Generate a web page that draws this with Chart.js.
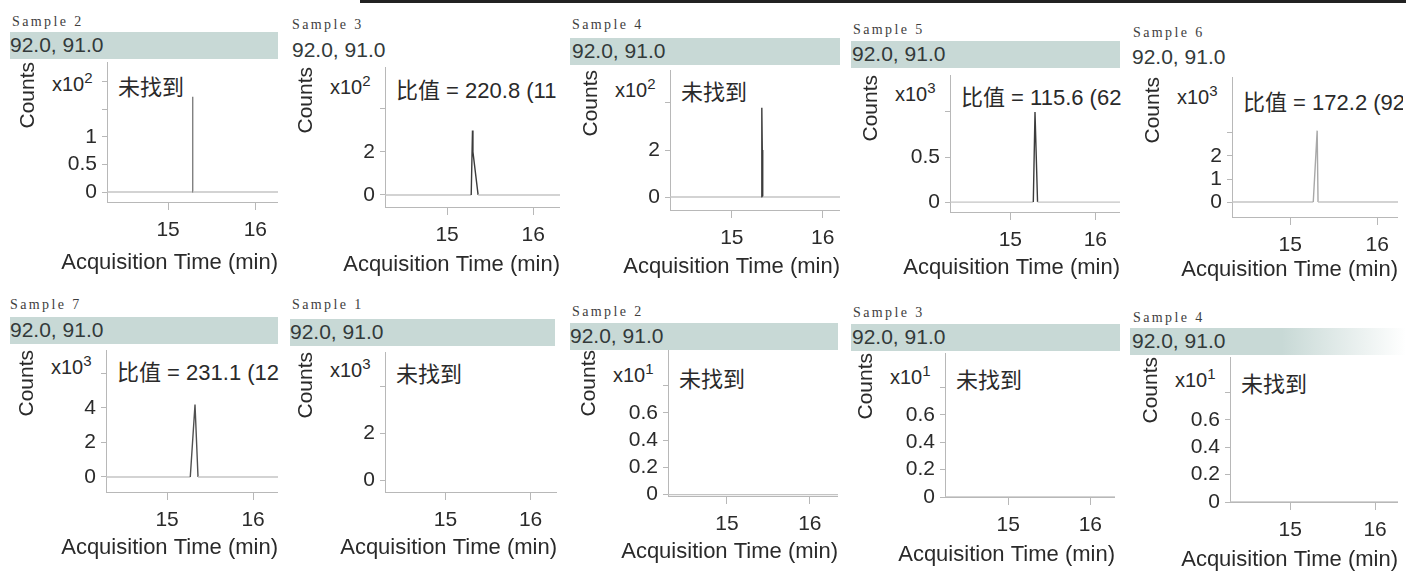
<!DOCTYPE html>
<html>
<head>
<meta charset="utf-8">
<script src="https://cdn.jsdelivr.net/npm/chart.js@4/dist/chart.umd.min.js"></script>
<style>
body { margin: 0; background: #fff; width: 1406px; height: 571px; position: relative; overflow: hidden;
       font-family: "Liberation Sans", Arial, "Noto Sans CJK SC", sans-serif; color: #2a2a2a; }
canvas { position: absolute; }
.smp { position: absolute; font: 14px "Liberation Serif", serif; letter-spacing: 2.4px; color: #3e3e3e; transform: translateY(-50%); white-space: nowrap; }
.band { position: absolute; height: 27px; background: #c8d9d6; }
.ion { position: absolute; font-size: 21px; color: #333a3a; transform: translateY(-50%); white-space: nowrap; }
.exp { position: absolute; font-size: 20px; transform: translateY(-50%); white-space: nowrap; }
.exp sup { font-size: 15px; vertical-align: 8px; }
.note { position: absolute; font-size: 22px; white-space: nowrap; overflow: hidden; transform: translateY(-50%); }
.rule { position: absolute; left: 360px; top: 0; width: 1046px; height: 3px; background: #222; }
</style>
</head>
<body>
<div class="rule"></div>
<script>
// DATOS

const sampleNames = ['Sample 2', 'Sample 3', 'Sample 4', 'Sample 5', 'Sample 6', 'Sample 7', 'Sample 1', 'Sample 2', 'Sample 3', 'Sample 4'];
const ionLabel = '92.0, 91.0';
const exponents = [2, 2, 2, 3, 3, 3, 3, 1, 1, 1];
const notes = ['未找到', '比值 = 220.8 (11', '未找到', '比值 = 115.6 (62', '比值 = 172.2 (92',
               '比值 = 231.1 (12', '未找到', '未找到', '未找到', '未找到'];
const xTitleText = 'Acquisition Time (min)';
const yTitleText = 'Counts';

const xTicks = [15, 16];

const yTicks = [
    [0, 0.5, 1, 1.5, 2],
    [0, 2, 4],
    [0, 2, 4],
    [0, 0.5, 1],
    [0, 1, 2, 3],
    [0, 2, 4, 6],
    [0, 2, 4],
    [0, 0.2, 0.4, 0.6, 0.8],
    [0, 0.2, 0.4, 0.6, 0.8],
    [0, 0.2, 0.4, 0.6, 0.8]
];
const yTickLabels = [
    ['0', '0.5', '1', '', ''],
    ['0', '2', ''],
    ['0', '2', ''],
    ['0', '0.5', ''],
    ['0', '1', '2', ''],
    ['0', '2', '4', ''],
    ['0', '2', ''],
    ['0', '0.2', '0.4', '0.6', ''],
    ['0', '0.2', '0.4', '0.6', ''],
    ['0', '0.2', '0.4', '0.6', '']
];

// [time (min), counts] por muestra
const trace1 = [[14.30, 0], [15.275, 0], [15.28, 1.72], [15.285, 0], [16.26, 0]];
const trace2 = [[14.28, 0], [15.28, 0], [15.295, 3.0], [15.30, 2.0], [15.36, 0], [16.31, 0]];
const trace3 = [[14.32, 0], [15.325, 0], [15.33, 3.8], [15.335, 2.0], [15.34, 0], [16.19, 0]];
const trace4 = [[14.29, 0], [15.27, 0], [15.29, 1.0], [15.32, 0], [16.29, 0]];
const trace5 = [[14.33, 0], [15.265, 0], [15.31, 3.1], [15.32, 0], [16.24, 0]];
const trace6 = [[14.29, 0], [15.27, 0], [15.325, 4.2], [15.36, 0], [16.29, 0]];
const trace7 = [[14.29, 0], [16.31, 0]];
const trace8 = [[14.29, 0], [16.34, 0]];
const trace9 = [[14.23, 0], [16.30, 0]];
const trace10 = [[14.29, 0], [16.27, 0]];
const traces = [trace1, trace2, trace3, trace4, trace5, trace6, trace7, trace8, trace9, trace10];

// LAYOUT (px)
const layout = [
    { A: 107, T: 62, B: 202, R: 278, tY: 263, x: [14.30, 16.26], y: [-0.18, 2.35], s: [12, 22], l: [10, 45], band: [10, 278], ey: 82, ny: 85, pc: '#808080' },
    { A: 385, T: 67, B: 207, R: 560, tY: 265, x: [14.28, 16.31], y: [-0.56, 5.95], s: [292, 25], l: [292, 50], band: null, ey: 85, ny: 88, dash: true, pc: '#3c3c3c' },
    { A: 670, T: 70, B: 210, R: 840, tY: 267, x: [14.32, 16.19], y: [-0.55, 5.4], s: [572, 25], l: [572, 51], band: [570, 840], ey: 88, ny: 90, dash: true, pc: '#3c3c3c' },
    { A: 950, T: 75, B: 212, R: 1120, tY: 268, x: [14.29, 16.29], y: [-0.11, 1.41], s: [853, 30], l: [852, 54], band: [851, 1120], ey: 92, ny: 95, pc: '#3c3c3c' },
    { A: 1232, T: 77, B: 217, R: 1398, tY: 270, x: [14.33, 16.24], y: [-0.65, 5.43], s: [1133, 33], l: [1132, 57], band: null, ey: 95, ny: 100, pc: '#a8a8a8' },
    { A: 106, T: 350, B: 492, R: 278, tY: 548, x: [14.29, 16.29], y: [-0.87, 7.36], s: [10, 305], l: [10, 330], band: [10, 278], ey: 365, ny: 370, pc: '#505050' },
    { A: 385, T: 352, B: 492, R: 557, tY: 548, x: [14.29, 16.31], y: [-0.51, 5.45], s: [292, 305], l: [290, 332], band: [290, 555], ey: 368, ny: 372, dash: true, hideBase: true, pc: '#3c3c3c' },
    { A: 668, T: 350, B: 496, R: 838, tY: 552, x: [14.29, 16.34], y: [-0.01, 1.06], s: [572, 312], l: [570, 336], band: [570, 838], ey: 373, ny: 377, dash: true, pc: '#3c3c3c' },
    { A: 945, T: 353, B: 497, R: 1115, tY: 555, x: [14.23, 16.30], y: [0, 1.05], s: [853, 313], l: [852, 337], band: [851, 1120], ey: 375, ny: 378, pc: '#3c3c3c' },
    { A: 1230, T: 357, B: 502, R: 1398, tY: 560, x: [14.29, 16.27], y: [0, 1.06], s: [1133, 318], l: [1132, 341], band: [1130, 1406], ey: 378, ny: 382, fade: true, pc: '#3c3c3c' }
];

const FONT = "'Liberation Sans', Arial, sans-serif";
const TEXT = '#2a2a2a';
const AXIS = '#b8b8b8';

// titulo del eje x sin comprimir, alineado al borde derecho del area
const xTitle = {
    id: 'xTitle',
    afterDraw(chart) {
        const { ctx, chartArea } = chart;
        ctx.save();
        ctx.font = '22px ' + FONT;
        ctx.fillStyle = TEXT;
        ctx.textAlign = 'right';
        ctx.textBaseline = 'middle';
        ctx.fillText(xTitleText, chartArea.right, chart.height - 16);
        ctx.restore();
    }
};

function addDiv(cls, left, top, html) {
    const d = document.createElement('div');
    d.className = cls;
    d.style.left = left + 'px';
    d.style.top = top + 'px';
    d.innerHTML = html;
    document.body.appendChild(d);
    return d;
}

layout.forEach((p, i) => {
    // cabecera
    if (p.band) {
        const b = addDiv('band', p.band[0], p.l[1] - 13, '');
        b.style.width = (p.band[1] - p.band[0]) + 'px';
        if (p.fade) b.style.background = 'linear-gradient(to right, #c8d9d6 55%, #ffffff)';
    }
    addDiv('smp', p.s[0], p.s[1], sampleNames[i]);
    addDiv('ion', p.l[0], p.l[1], ionLabel);
    addDiv('exp', p.A - 55, p.ey, 'x10<sup>' + exponents[i] + '</sup>');
    const n = addDiv('note', p.A + 11, p.ny, notes[i]);
    n.style.width = (p.R + 5 - p.A - 11) + 'px';

    // canvas
    const left = p.A - 107;
    const top = p.T - 4;
    const bottom = p.tY + 16;
    const cv = document.createElement('canvas');
    cv.width = p.R - left;
    cv.height = bottom - top;
    cv.style.left = left + 'px';
    cv.style.top = top + 'px';
    document.body.appendChild(cv);

    const baseColor = p.hideBase ? 'rgba(0,0,0,0)' : '#c4c4c4';

    new Chart(cv, {
        type: 'line',
        data: {
            datasets: [{
                data: traces[i].map(([x, y]) => ({ x, y })),
                borderWidth: 1.4,
                pointRadius: 0,
                tension: 0,
                segment: {
                    borderColor: c => (c.p0.parsed.y === 0 && c.p1.parsed.y === 0) ? baseColor : p.pc
                }
            }]
        },
        plugins: [xTitle],
        options: {
            animation: false,
            responsive: false,
            events: [],
            layout: { padding: { top: 4, right: 0, bottom: 0, left: 0 } },
            plugins: { legend: { display: false }, tooltip: { enabled: false } },
            scales: {
                x: {
                    type: 'linear',
                    min: p.x[0],
                    max: p.x[1],
                    afterBuildTicks: s => { s.ticks = xTicks.map(v => ({ value: v })); },
                    afterFit: s => { s.height = bottom - p.B; s.paddingLeft = 0; s.paddingRight = 0; },
                    grid: { display: true, drawOnChartArea: false, drawTicks: true, tickLength: 8, color: AXIS },
                    border: { color: AXIS, dash: p.dash ? [10, 4, 2, 4] : [] },
                    ticks: { color: TEXT, font: { size: 21, family: FONT }, padding: 8, maxRotation: 0, autoSkip: false },
                    title: { display: false }
                },
                y: {
                    min: p.y[0],
                    max: p.y[1],
                    afterBuildTicks: s => { s.ticks = yTicks[i].map(v => ({ value: v })); },
                    afterFit: s => { s.width = 107; s.paddingTop = 0; s.paddingBottom = 0; },
                    grid: { display: true, drawOnChartArea: false, drawTicks: true, tickLength: 5, color: AXIS },
                    border: { color: AXIS },
                    ticks: { color: TEXT, font: { size: 21, family: FONT }, padding: 5, autoSkip: false,
                             callback: (v, idx) => yTickLabels[i][idx] },
                    title: { display: true, text: yTitleText, align: 'end', color: TEXT,
                             font: { size: 21, family: FONT }, padding: { top: 16, bottom: 0 } }
                }
            }
        }
    });
});
</script>
</body>
</html>
